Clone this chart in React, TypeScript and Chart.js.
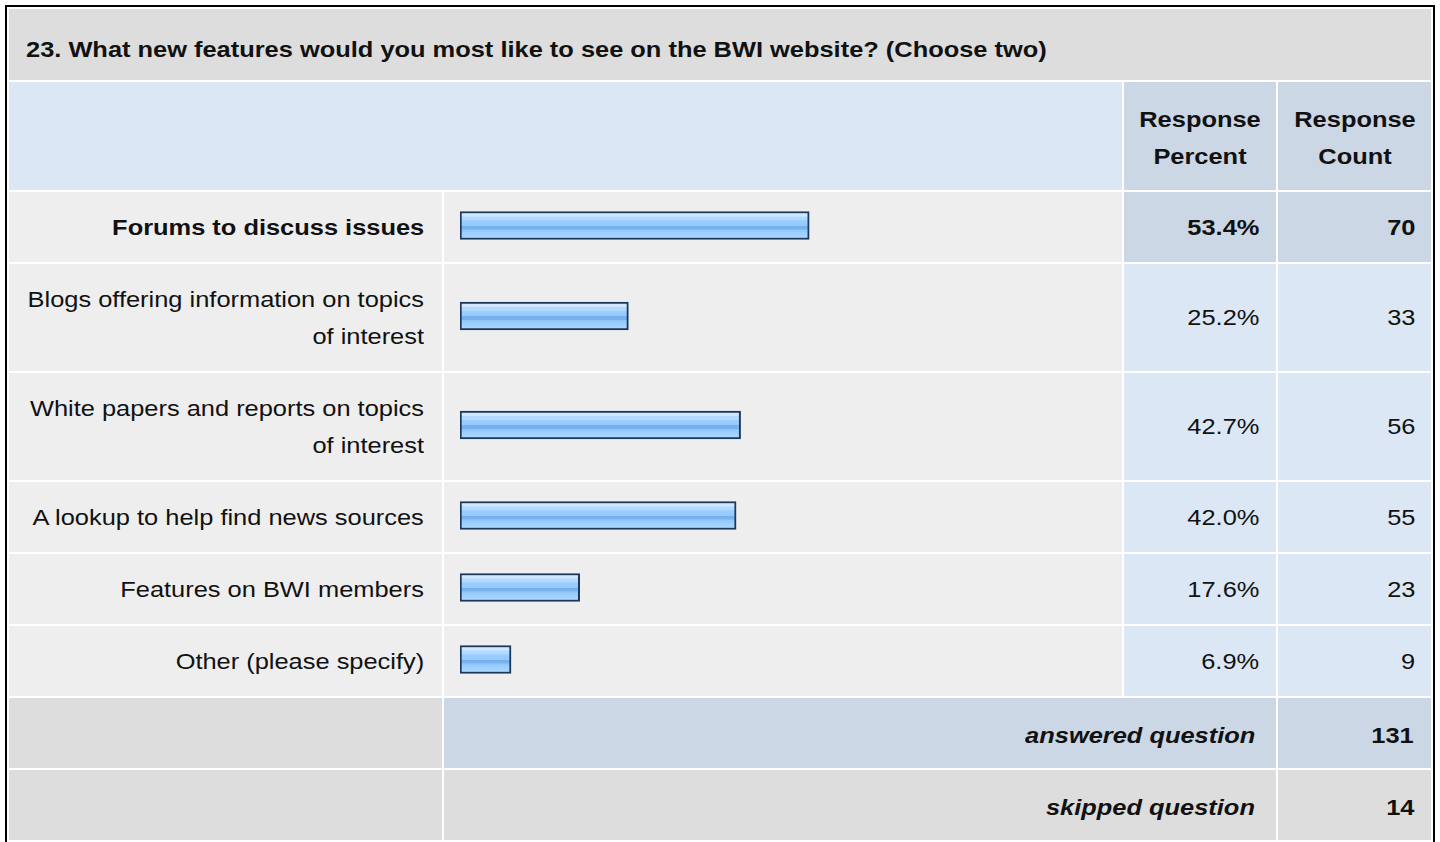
import React, { useEffect, useRef } from "react";
import { Chart, registerables } from "chart.js";

Chart.register(...registerables);

// ---- data ----
const TITLE = "23. What new features would you most like to see on the BWI website? (Choose two)";
const HEADER_PERCENT = "Response Percent";
const HEADER_COUNT = "Response Count";
const CATEGORIES = [
  "Forums to discuss issues",
  "Blogs offering information on topics of interest",
  "White papers and reports on topics of interest",
  "A lookup to help find news sources",
  "Features on BWI members",
  "Other (please specify)",
];
const PERCENTS = [53.4, 25.2, 42.7, 42.0, 17.6, 6.9];
const COUNTS = [70, 33, 56, 55, 23, 9];
const ANSWERED_LABEL = "answered question";
const SKIPPED_LABEL = "skipped question";
const ANSWERED = 131;
const SKIPPED = 14;
const HIGHLIGHT_INDEX = 0;

// ---- style ----
const FONT = '"Liberation Sans", Arial, Helvetica, sans-serif';
const FS = 22;
const SX = 1.155;
const X_MIN = -1.06;
const X_MAX = 100;
const C_GREY = "#DDDDDD";
const C_LIGHT = "#EEEEEE";
const C_BLUE = "#DCE7F5";
const C_BLUE2 = "#CBD7E5";

function T({ children, origin = "right center", maxWidth, bold, italic }: any) {
  return (
    <span
      style={{
        display: "inline-block",
        transform: `scaleX(${SX})`,
        transformOrigin: origin,
        maxWidth,
        verticalAlign: "top",
        fontWeight: bold ? "bold" : "normal",
        fontStyle: italic ? "italic" : "normal",
      }}
    >
      {children}
    </span>
  );
}

function BarCell({ label, value }: { label: string; value: number }) {
  const ref = useRef<HTMLCanvasElement | null>(null);
  useEffect(() => {
    if (!ref.current) return;
    const chart = new Chart(ref.current, {
      type: "bar",
      data: {
        labels: [label],
        datasets: [
          {
            data: [value],
            base: X_MIN,
            barThickness: 28,
            borderWidth: 2,
            borderColor: "#1C375A",
            borderSkipped: false,
            backgroundColor: (ctx: any) => {
              const c = ctx.chart;
              const area = c.chartArea;
              if (!area) return "#92C8FC";
              const mid = (area.top + area.bottom) / 2;
              const g = c.ctx.createLinearGradient(0, mid - 12, 0, mid + 12);
              g.addColorStop(0, "#CFE8FF");
              g.addColorStop(0.12, "#CFE8FF");
              g.addColorStop(0.13, "#B2DAFF");
              g.addColorStop(0.27, "#B2DAFF");
              g.addColorStop(0.28, "#9DCFFF");
              g.addColorStop(0.5, "#93C9FD");
              g.addColorStop(0.51, "#78B2EE");
              g.addColorStop(0.66, "#78B2EE");
              g.addColorStop(0.67, "#8EC5FA");
              g.addColorStop(0.8, "#9CCEFF");
              g.addColorStop(1, "#AAD6FF");
              return g;
            },
          } as any,
        ],
      },
      options: {
        indexAxis: "y",
        responsive: true,
        maintainAspectRatio: false,
        animation: false,
        events: [],
        layout: { padding: { left: 16, right: 14, top: 0, bottom: 3 } },
        plugins: { legend: { display: false }, tooltip: { enabled: false } },
        scales: {
          x: { type: "linear", min: X_MIN, max: X_MAX, display: false },
          y: { display: false },
        },
      } as any,
    });
    return () => chart.destroy();
  }, [label, value]);
  return (
    <td style={{ background: C_LIGHT, padding: 0, position: "relative" }}>
      <div style={{ position: "absolute", inset: 0 }}>
        <canvas ref={ref} />
      </div>
    </td>
  );
}

export default function App() {
  const rowPad = "17px 18px 16px 10px";
  return (
    <div
      style={{
        position: "absolute",
        left: 5,
        top: 5,
        border: "2px solid #000",
        background: "#fff",
        fontFamily: FONT,
        fontSize: FS,
        lineHeight: "37px",
        color: "#111",
      }}
    >
      <table
        style={{
          borderCollapse: "separate",
          borderSpacing: 2,
          tableLayout: "fixed",
          width: 1426,
        }}
      >
        <colgroup>
          <col style={{ width: 433 }} />
          <col style={{ width: 678 }} />
          <col style={{ width: 152 }} />
          <col style={{ width: 153 }} />
        </colgroup>
        <tbody>
          <tr>
            <td colSpan={4} style={{ background: C_GREY, padding: "22px 10px 12px 17px", textAlign: "left" }}>
              <T origin="left center" bold>{TITLE}</T>
            </td>
          </tr>
          <tr>
            <td colSpan={2} style={{ background: C_BLUE }} />
            <td style={{ background: C_BLUE2, padding: "19px 0 15px 0", textAlign: "center" }}>
              <T origin="center center" maxWidth={110} bold>{HEADER_PERCENT}</T>
            </td>
            <td style={{ background: C_BLUE2, padding: "19px 0 15px 0", textAlign: "center" }}>
              <T origin="center center" maxWidth={110} bold>{HEADER_COUNT}</T>
            </td>
          </tr>
          {CATEGORIES.map((cat, i) => {
            const hl = i === HIGHLIGHT_INDEX;
            return (
              <tr key={cat}>
                <td style={{ background: C_LIGHT, padding: rowPad, textAlign: "right", verticalAlign: "middle" }}>
                  <T maxWidth={354} bold={hl}>{cat}</T>
                </td>
                <BarCell label={cat} value={PERCENTS[i]} />
                <td style={{ background: hl ? C_BLUE2 : C_BLUE, padding: "0 17px 0 0", textAlign: "right", verticalAlign: "middle" }}>
                  <T bold={hl}>{PERCENTS[i].toFixed(1) + "%"}</T>
                </td>
                <td style={{ background: hl ? C_BLUE2 : C_BLUE, padding: "0 16px 0 0", textAlign: "right", verticalAlign: "middle" }}>
                  <T bold={hl}>{String(COUNTS[i])}</T>
                </td>
              </tr>
            );
          })}
          <tr>
            <td style={{ background: C_GREY, padding: "19px 0 14px 0" }} />
            <td colSpan={2} style={{ background: C_BLUE2, padding: "19px 21px 14px 0", textAlign: "right" }}>
              <T bold italic>{ANSWERED_LABEL}</T>
            </td>
            <td style={{ background: C_BLUE2, padding: "19px 17px 14px 0", textAlign: "right" }}>
              <T bold>{String(ANSWERED)}</T>
            </td>
          </tr>
          <tr>
            <td style={{ background: C_GREY, padding: "19px 0 14px 0" }} />
            <td colSpan={2} style={{ background: C_GREY, padding: "19px 21px 14px 0", textAlign: "right" }}>
              <T bold italic>{SKIPPED_LABEL}</T>
            </td>
            <td style={{ background: C_GREY, padding: "19px 17px 14px 0", textAlign: "right" }}>
              <T bold>{String(SKIPPED)}</T>
            </td>
          </tr>
        </tbody>
      </table>
    </div>
  );
}
